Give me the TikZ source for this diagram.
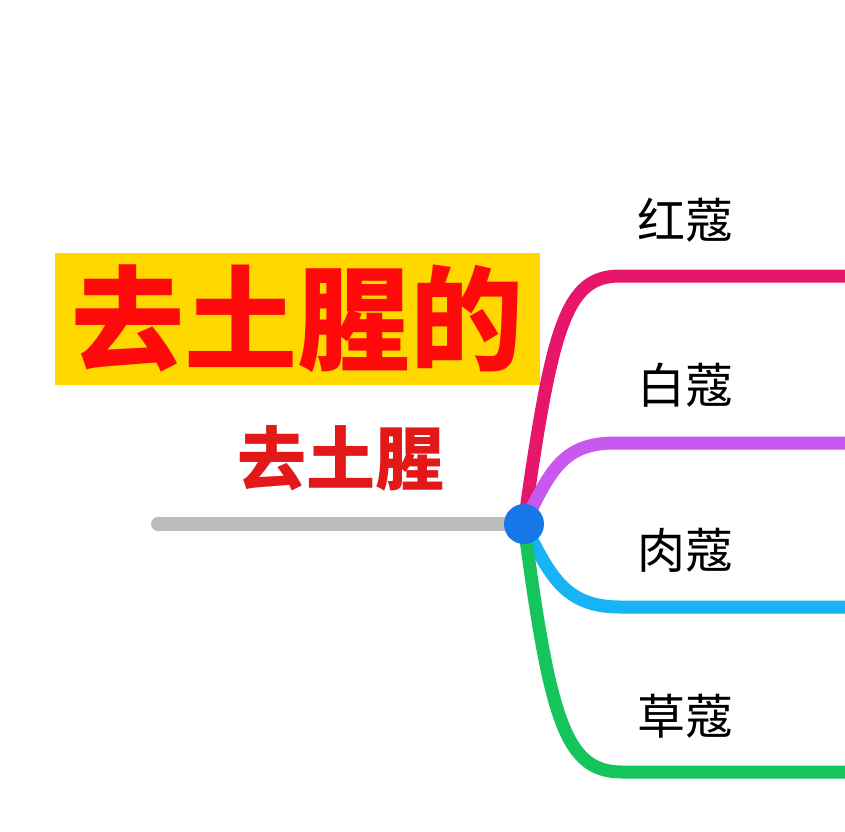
\documentclass[tikz,border=0pt]{standalone}
\usepackage{fontspec}
\newfontfamily\cjk{Noto Sans CJK SC}
\definecolor{cRed}{HTML}{E6176B}
\definecolor{cPurple}{HTML}{C958F0}
\definecolor{cCyan}{HTML}{17B3F5}
\definecolor{cGreen}{HTML}{15C45A}
\definecolor{cDot}{HTML}{1677E8}
\definecolor{cGray}{HTML}{BDBDBD}
\definecolor{cYellow}{HTML}{FFD800}
\definecolor{cTitle}{HTML}{FF0A0A}
\definecolor{cSub}{HTML}{E31818}
\tikzset{
  branch/.style={line width=13pt, line cap=round},
  leaf/.style={font=\cjk\fontsize{48}{50}\selectfont, text=black, inner sep=0pt, anchor=west},
}
\begin{document}
\begin{tikzpicture}[x=1pt,y=-1pt]
\useasboundingbox[fill=white] (0,0) rectangle (845,831);
% title
\node[fill=cYellow, minimum width=485pt, minimum height=132pt, inner sep=0pt,
      font=\cjk\bfseries\fontsize{113}{115}\selectfont, text=cTitle] (title) at (297.5,319) {去土腥的};
\node[font=\cjk\bfseries\fontsize{69}{71}\selectfont, text=cSub, inner sep=0pt] (sub) at (341,458) {去土腥};
% hub
\coordinate (hub) at (524,524);
\coordinate (gl) at (158,524);
\draw[line width=14pt, line cap=round, cGray] (gl) -- (hub);
% branch ends
\coordinate (e1) at (845,276);
\coordinate (e2) at (845,443);
\coordinate (e3) at (845,607);
\coordinate (e4) at (845,772);
\draw[branch, cRed] (hub) .. controls (552,325) and (566,276) .. (620,276) -- (e1);
\draw[branch, cPurple] (hub) .. controls (550,472) and (562,443) .. (615,443) -- (e2);
\draw[branch, cCyan] (hub) .. controls (550,576) and (565,607) .. (620,607) -- (e3);
\draw[branch, cGreen] (hub) .. controls (550,722) and (566,772) .. (622,772) -- (e4);
\node[circle, fill=cDot, minimum size=40pt, inner sep=0pt] (dot) at (hub) {};
% labels
\node[leaf] (l1) at (637,220) {红蔻};
\node[leaf] (l2) at (637,385) {白蔻};
\node[leaf] (l3) at (637,550) {肉蔻};
\node[leaf] (l4) at (637,716) {草蔻};
\end{tikzpicture}
\end{document}
